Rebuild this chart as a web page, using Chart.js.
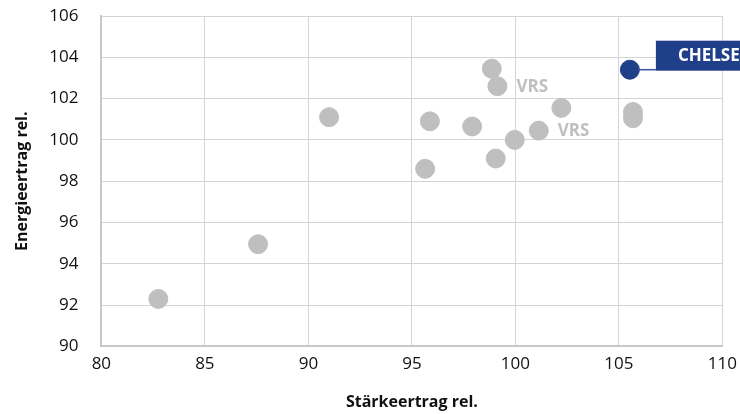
<!DOCTYPE html>
<html>
<head>
<meta charset="utf-8">
<script src="https://cdn.jsdelivr.net/npm/chart.js@4"></script>
<style>
  html, body { margin: 0; padding: 0; background: #fff; }
  #wrap { width: 740px; height: 414px; }
</style>
</head>
<body>
<div id="wrap"><canvas id="myChart" width="740" height="414"></canvas></div>
<script>
// Stärkeertrag (x) / Energieertrag (y), relative Werte
const xValues = [82.75, 87.57, 91.0, 95.87, 97.91, 98.86, 99.13, 102.22, 101.13, 99.97, 99.05, 95.64, 105.68, 105.68];
const yValues = [92.3, 94.95, 101.1, 100.9, 100.65, 103.45, 102.6, 101.55, 100.45, 100.0, 99.1, 98.6, 101.35, 101.05];
const pointLabels = ['', '', '', '', '', '', 'VRS', '', 'VRS', '', '', '', '', ''];

const highlightName = 'CHELSEA';
const highlightX = [105.53];
const highlightY = [103.4];

const xTicks = [80, 85, 90, 95, 100, 105, 110];
const yTicks = [90, 92, 94, 96, 98, 100, 102, 104, 106];

const ctx = document.getElementById('myChart').getContext('2d');

let points = [];
for (let i = 0; i < xValues.length; i++) {
    points.push({ x: xValues[i], y: yValues[i] });
}
let hlPoints = [];
for (let i = 0; i < highlightX.length; i++) {
    hlPoints.push({ x: highlightX[i], y: highlightY[i] });
}

const labelPlugin = {
    id: 'labelPlugin',
    afterDatasetsDraw(chart) {
        const c = chart.ctx;
        const xs = chart.scales.x;
        const ys = chart.scales.y;
        c.save();
        // grey VRS labels
        c.font = 'bold 17px "Open Sans"';
        c.fillStyle = '#bfbfbf';
        c.textBaseline = 'middle';
        c.textAlign = 'left';
        for (let i = 0; i < pointLabels.length; i++) {
            if (!pointLabels[i]) continue;
            c.fillText(pointLabels[i], xs.getPixelForValue(xValues[i]) + 19, ys.getPixelForValue(yValues[i]) + 1);
        }
        // highlighted label box
        const px = xs.getPixelForValue(highlightX[0]);
        const py = ys.getPixelForValue(highlightY[0]);
        c.strokeStyle = '#3a5599';
        c.lineWidth = 1.5;
        c.beginPath();
        c.moveTo(px + 8, py);
        c.lineTo(px + 26, py);
        c.stroke();
        c.fillStyle = '#203f8a';
        c.fillRect(px + 26, py - 29, 130, 30);
        c.fillStyle = '#ffffff';
        c.font = 'bold 17px "Open Sans"';
        c.fillText(highlightName, px + 48, py - 14);
        c.restore();
    }
};

let myChart = new Chart(ctx, {
    type: 'scatter',
    data: {
        datasets: [{
            label: 'Sorten',
            data: points,
            backgroundColor: '#bfbfbf',
            borderColor: '#bfbfbf',
            pointRadius: 9.5,
            pointHoverRadius: 9.5
        }, {
            label: highlightName,
            data: hlPoints,
            backgroundColor: '#203f8a',
            borderColor: '#203f8a',
            pointRadius: 9.5,
            pointHoverRadius: 9.5
        }]
    },
    options: {
        responsive: false,
        animation: false,
        layout: { padding: { top: 16, right: 0, left: 13, bottom: 2 } },
        plugins: {
            legend: { display: false },
            tooltip: { enabled: false }
        },
        scales: {
            x: {
                type: 'linear',
                min: 80,
                max: 110,
                afterBuildTicks: (axis) => { axis.ticks = xTicks.map(v => ({ value: v })); },
                grid: { color: '#d4d4d4', lineWidth: 1, drawTicks: true, tickLength: 5, tickColor: 'rgba(0,0,0,0)' },
                border: { color: '#c8c8c8', width: 2 },
                ticks: {
                    color: '#111',
                    padding: 3,
                    maxRotation: 0,
                    font: { family: 'Open Sans', size: 17 }
                },
                title: {
                    display: true,
                    text: 'Stärkeertrag rel.',
                    color: '#111',
                    padding: { top: 15, bottom: 0 },
                    font: { family: 'Open Sans', size: 16, weight: 'bold' }
                }
            },
            y: {
                type: 'linear',
                min: 90,
                max: 106,
                afterBuildTicks: (axis) => { axis.ticks = yTicks.map(v => ({ value: v })); },
                grid: { color: '#d4d4d4', lineWidth: 1, drawTicks: true, tickLength: 20, tickColor: 'rgba(0,0,0,0)' },
                border: { color: '#c8c8c8', width: 2 },
                ticks: {
                    color: '#111',
                    padding: 3,
                    font: { family: 'Open Sans', size: 17 }
                },
                title: {
                    display: true,
                    text: 'Energieertrag rel.',
                    color: '#111',
                    padding: { top: 0, bottom: 14 },
                    font: { family: 'Open Sans', size: 16, weight: 'bold' }
                }
            }
        }
    },
    plugins: [labelPlugin]
});
</script>
</body>
</html>
